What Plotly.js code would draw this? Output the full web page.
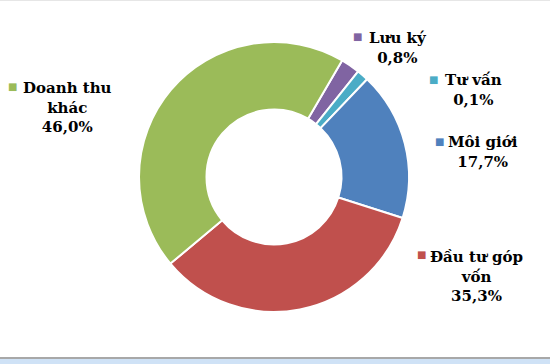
<!DOCTYPE html>
<html>
<head>
<meta charset="utf-8">
<script src="https://cdn.plot.ly/plotly-3.0.1.min.js"></script>
<style>
  html, body { margin: 0; padding: 0; background: #ffffff; }
  #chart { width: 550px; height: 364px; }
</style>
</head>
<body>
<div id="chart"></div>
<script>
// Categories in clockwise order starting from the top-right
var categories = ["Lưu ký", "Tư vấn", "Môi giới", "Đầu tư góp vốn", "Doanh thu khác"];
// Category names as wrapped in the data labels
var labelLines = ["Lưu ký", "Tư vấn", "Môi giới", "Đầu tư góp<br>vốn", "Doanh thu<br>khác"];
var sliceShares = [2.3, 1.4, 17.8, 34.0, 44.5];
// Percentages as printed in the data labels
var printedPercent = ["0,8%", "0,1%", "17,7%", "35,3%", "46,0%"];
var colors = ["#8064A2", "#4BACC6", "#4F81BD", "#C0504D", "#9BBB59"];

var W = 550, H = 364;
function px(x) { return x / W; }
function py(y) { return 1 - y / H; }

// label block placement (pixel centres) and bullet placement
var blockPos = [[398, 48], [473, 90], [483, 152], [476, 276], [67, 107.5]];
var bulletPos = [[357, 37], [433, 79], [439, 142], [421, 254], [12, 86]];

var annotations = [];
for (var i = 0; i < categories.length; i++) {
  annotations.push({
    xref: "paper", yref: "paper",
    x: px(blockPos[i][0]), y: py(blockPos[i][1]),
    xanchor: "center", yanchor: "middle",
    text: "<b>" + labelLines[i] + "<br>" + printedPercent[i] + "</b>",
    showarrow: false, align: "center",
    font: { family: "DejaVu Serif", size: 15, color: "#000000" }
  });
  annotations.push({
    xref: "paper", yref: "paper",
    x: px(bulletPos[i][0]), y: py(bulletPos[i][1]),
    xanchor: "center", yanchor: "middle",
    text: "■", showarrow: false,
    font: { family: "DejaVu Sans", size: 10, color: colors[i] }
  });
}

var trace = {
  type: "pie",
  labels: categories,
  values: sliceShares,
  sort: false,
  direction: "clockwise",
  rotation: 30.3,
  hole: 0.5,
  textinfo: "none",
  hoverinfo: "none",
  marker: { colors: colors, line: { color: "#ffffff", width: 2 } },
  domain: { x: [139 / W, 409 / W], y: [1 - 312 / H, 1 - 42 / H] },
  showlegend: false
};

var layout = {
  width: W, height: H,
  margin: { l: 0, r: 0, t: 0, b: 0 },
  paper_bgcolor: "#ffffff",
  showlegend: false,
  annotations: annotations,
  shapes: [
    { type: "rect", xref: "paper", yref: "paper", x0: 0, x1: 1, y0: 0, y1: 5 / H,
      fillcolor: "#cfe2f6", line: { width: 0 } },
    { type: "line", xref: "paper", yref: "paper", x0: 0, x1: 1, y0: 6 / H, y1: 6 / H,
      line: { color: "#a8a8a8", width: 2 } },
    { type: "line", xref: "paper", yref: "paper", x0: 0, x1: 1, y0: 1 - 0.5 / H, y1: 1 - 0.5 / H,
      line: { color: "#e6e6e6", width: 1 } }
  ]
};

Plotly.newPlot("chart", [trace], layout, { displayModeBar: false, staticPlot: true });
</script>
</body>
</html>
